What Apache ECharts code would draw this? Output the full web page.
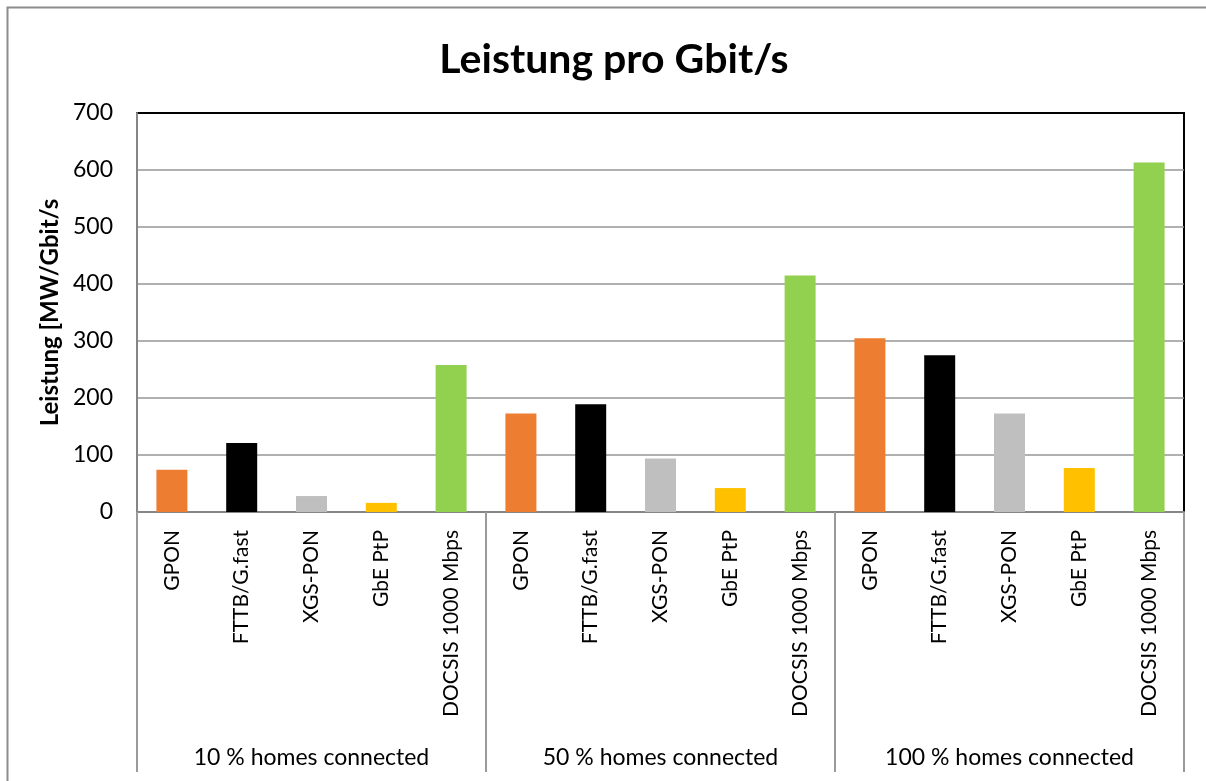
<!DOCTYPE html>
<html>
<head>
<meta charset="utf-8">
<script src="https://cdn.jsdelivr.net/npm/echarts@6/dist/echarts.min.js"></script>
<style>
  html, body { margin: 0; padding: 0; background: #fff; }
  #chart { width: 1206px; height: 781px; }
</style>
</head>
<body>
<div id="chart"></div>
<script>
// technologies shown inside every group
const techs = ['GPON', 'FTTB/G.fast', 'XGS-PON', 'GbE PtP', 'DOCSIS 1000 Mbps'];
const techColors = ['#ED7D31', '#000000', '#BFBFBF', '#FFC000', '#92D050'];
const groups = ['10 % homes connected', '50 % homes connected', '100 % homes connected'];

// Leistung [MW/Gbit/s] per group, same order as techs
const values10 = [74, 121, 28, 16, 258];
const values50 = [173, 189, 94, 42, 415];
const values100 = [305, 275, 173, 77, 613];

const yTicks = { min: 0, max: 700, interval: 100 };

const FONT = 'Lato';

const groupValues = [values10, values50, values100];
const categories = [];
const barData = [];
groupValues.forEach(vals => {
  vals.forEach((v, i) => {
    categories.push(techs[i]);
    barData.push({ value: v, itemStyle: { color: techColors[i] } });
  });
});

const chart = echarts.init(document.getElementById('chart'), null, { renderer: 'canvas' });

const gridBox = { left: 137, right: 22, top: 113, bottom: 269 };

const option = {
  backgroundColor: '#fff',
  animation: false,
  textStyle: { fontFamily: FONT },
  title: {
    text: 'Leistung pro Gbit/s',
    left: 609,
    textAlign: 'center',
    top: 34,
    textStyle: { fontFamily: FONT, fontSize: 41, fontWeight: 'bold', color: '#000' }
  },
  graphic: [{
    type: 'rect',
    shape: { x: 7.5, y: 7.5, width: 1210, height: 800 },
    style: { fill: null, stroke: '#8c8c8c', lineWidth: 2 },
    silent: true
  }],
  grid: [
    Object.assign({ show: true, borderColor: '#000', borderWidth: 2, backgroundColor: 'transparent' }, gridBox),
    Object.assign({}, gridBox)
  ],
  xAxis: [{
    type: 'category',
    gridIndex: 0,
    data: categories,
    axisLine: { show: true, lineStyle: { color: '#868686', width: 2 } },
    axisTick: { show: false },
    axisLabel: {
      rotate: 90,
      margin: 18,
      interval: 0,
      fontFamily: FONT,
      fontSize: 21,
      color: '#000'
    },
    splitLine: { show: false }
  }, {
    type: 'category',
    gridIndex: 1,
    position: 'bottom',
    data: groups,
    axisLine: { show: false },
    axisTick: { show: true, length: 260, lineStyle: { color: '#9a9a9a', width: 2 } },
    axisLabel: {
      margin: 234,
      fontFamily: FONT,
      fontSize: 23,
      color: '#000'
    },
    splitLine: { show: false }
  }],
  yAxis: [{
    type: 'value',
    gridIndex: 0,
    min: yTicks.min,
    max: yTicks.max,
    interval: yTicks.interval,
    name: 'Leistung [MW/Gbit/s',
    nameLocation: 'middle',
    nameRotate: 90,
    nameGap: 68,
    nameTextStyle: { fontFamily: FONT, fontSize: 24, fontWeight: 'bold', color: '#000' },
    axisLine: { show: true, lineStyle: { color: '#868686', width: 2 } },
    axisTick: { show: false },
    axisLabel: { margin: 24, fontFamily: FONT, fontSize: 23, color: '#000' },
    splitLine: { show: true, showMaxLine: false, lineStyle: { color: '#969696', width: 1.5 } }
  }, {
    type: 'value',
    gridIndex: 1,
    show: false,
    min: yTicks.min,
    max: yTicks.max
  }],
  series: [{
    type: 'bar',
    xAxisIndex: 0,
    yAxisIndex: 0,
    data: barData,
    barWidth: 31
  }]
};

chart.setOption(option);
</script>
</body>
</html>
